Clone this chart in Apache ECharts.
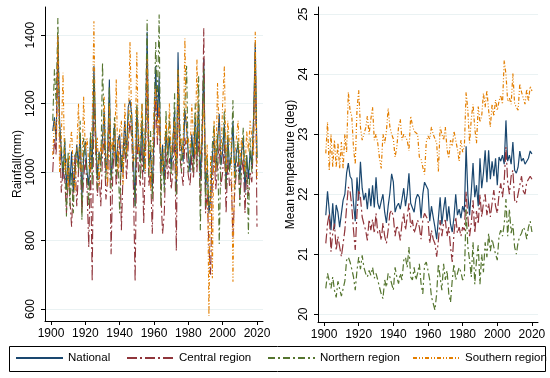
<!DOCTYPE html>
<html>
<head>
<meta charset="utf-8">
<script src="https://cdn.jsdelivr.net/npm/echarts@6/dist/echarts.min.js"></script>
<style>html,body{margin:0;padding:0;background:#fff;}#c{width:550px;height:378px;}</style>
</head>
<body>
<div id="c"></div>
<script>
const firstYear = 1901;
const years = Array.from({length: 120}, (_, i) => firstYear + i);
const xTicks = [1900, 1920, 1940, 1960, 1980, 2000, 2020];
const rainTicks = [600, 800, 1000, 1200, 1400];
const tempTicks = [20, 21, 22, 23, 24, 25];
const seriesNames = ['National', 'Central region', 'Northern region', 'Southern region'];

// Rainfall (mm), 1901-2020
const rainNational = [
1120,1160,1090,1400,1150,1060,980,1090,950,1040,
960,1060,940,1000,1080,1020,1110,930,1040,1090,
1000,960,1100,1010,1310,1120,980,1060,1020,1100,
1180,1000,1050,1270,980,1040,1140,1020,1090,1110,
1000,1060,1150,1050,1190,1210,1170,1040,900,1190,
1080,1030,1150,1000,1110,1410,1020,1060,950,1100,
1310,1150,1280,1000,1080,960,1120,1050,1100,1010,
1090,1180,940,1350,1100,1070,1030,1180,1130,1050,
1000,1110,1040,1160,1060,1200,980,1090,1330,950,
1010,880,920,1050,1100,1000,1080,1170,1020,1060,
1140,950,1100,1010,1040,1150,990,1060,1080,980,
1060,1100,940,1050,980,1060,1020,1160,1380,1040];
const rainCentral = [
1000,1100,1050,1350,1120,940,1010,980,880,1000,
920,840,970,1050,900,1000,1060,880,980,1040,
950,780,1040,680,1230,1060,930,1000,900,1050,
1100,920,980,1180,760,1000,1080,960,1030,1090,
830,1000,1100,980,1080,1150,1100,960,680,1100,
1000,960,1080,850,1050,1300,960,1000,820,1050,
1220,1080,1200,940,820,880,1060,980,1040,950,
1000,1120,770,1250,1050,1000,960,1100,1050,990,
960,1050,980,1100,1000,1120,900,1050,1420,880,
940,780,700,980,1050,950,1020,1080,960,1000,
1080,880,1040,960,980,810,940,1000,1030,920,
1000,1040,880,1000,930,1000,970,1100,1350,840];
const rainNorthern = [
1150,1300,1200,1450,1120,1080,1000,1100,870,1060,
900,1000,880,1050,1060,1000,1150,860,1100,1050,
1000,900,1120,960,1280,1100,950,1060,1000,1320,
1120,980,1060,1250,950,1080,1160,990,1060,880,
1050,1000,1100,1040,1160,1180,1130,1000,900,1200,
1100,980,1200,1000,1150,1445,990,1120,920,1150,
1380,1200,1460,900,1060,940,1180,1020,1160,990,
1060,1230,930,1300,1150,1000,1100,1200,1310,1000,
1040,1090,1000,1200,1020,1280,830,1150,1300,900,
1050,900,950,1080,1140,1020,1110,790,1050,1080,
1180,950,1120,1000,1060,1210,950,1030,1100,900,
1040,1130,980,1050,820,1100,1000,1150,1350,1020];
const rainSouthern = [
1050,1150,1100,1400,1000,1100,1290,1000,1040,950,
1080,1120,1000,940,1060,1200,1010,1000,1220,1060,
1100,1020,1000,1150,1440,1060,1100,960,1080,1050,
1220,1050,960,1200,1060,1100,1040,1270,1000,1120,
1150,960,1200,1050,1100,1380,1150,1030,1050,1350,
1050,1100,1200,1080,1000,1330,1100,950,1060,1180,
1250,1100,1200,1050,1000,1080,1150,1060,1200,1050,
1100,1150,980,1300,1060,1100,1050,1390,1080,1100,
1050,1200,1100,1050,1330,1120,1050,1100,1200,1000,
1080,580,1050,690,1150,1000,1260,1100,1050,1200,
1310,1000,1150,1080,1100,680,1050,1100,1150,1020,
1100,1050,1000,1120,1060,1150,1100,1050,1410,980];

// Mean temperature (deg), 1901-2020
const tempNational = [
21.65,22.05,22.08,21.40,21.85,21.42,21.82,21.70,21.45,21.43,
21.90,22.00,22.35,22.52,22.30,22.25,21.85,21.55,22.28,21.90,
22.54,22.10,21.90,22.02,21.75,22.10,21.80,22.15,21.78,22.28,
21.85,21.75,21.88,22.00,21.70,21.52,21.80,22.02,22.34,22.20,
21.70,21.80,21.85,21.75,21.92,22.10,21.80,22.00,22.35,21.85,
21.88,21.70,21.92,22.00,21.95,21.60,22.00,22.20,22.18,22.08,
21.55,21.80,21.62,21.45,21.25,21.60,21.95,21.50,21.75,21.95,
21.55,21.80,21.50,21.37,21.62,22.00,21.65,21.75,21.60,21.80,
21.70,22.80,22.00,21.65,22.05,22.52,21.95,22.15,21.80,22.60,
22.10,22.35,22.73,22.20,22.73,22.25,22.55,22.30,22.60,22.15,
22.62,22.55,22.65,22.50,23.23,22.55,22.65,22.50,22.87,22.40,
22.35,22.45,22.72,22.55,22.60,22.50,22.48,22.60,22.72,22.67];
const tempCentral = [
21.18,21.51,21.68,21.04,21.35,21.51,21.06,21.30,21.12,20.96,
20.98,21.40,21.78,22.12,22.05,21.80,21.40,21.07,21.68,22.07,
21.95,21.62,21.50,21.40,21.23,21.58,21.40,21.58,21.35,21.68,
21.35,21.40,21.23,21.52,21.30,21.18,21.40,21.68,21.73,21.62,
21.30,21.48,21.40,21.23,21.52,21.68,21.40,21.62,21.85,21.45,
21.57,21.35,21.45,21.57,21.45,21.25,21.57,21.68,21.66,21.57,
21.18,21.40,21.25,21.18,20.96,21.23,21.57,21.30,21.52,21.57,
21.30,21.45,21.12,20.87,21.35,21.62,21.35,21.45,21.30,21.45,
21.40,22.05,21.62,21.30,21.52,21.90,21.35,21.72,21.50,22.00,
21.62,21.85,22.00,21.65,21.85,21.62,21.85,22.07,21.80,21.68,
22.00,22.18,21.95,22.22,22.79,22.20,22.00,22.30,22.40,21.90,
21.85,22.00,22.15,22.30,22.05,22.00,22.20,22.25,22.30,22.25];
const tempNorthern = [
20.43,20.68,20.65,20.43,20.62,20.40,20.28,20.55,20.42,20.30,
20.32,20.55,20.90,20.95,20.87,20.75,20.62,20.40,20.73,20.95,
20.75,20.98,20.78,20.68,20.62,20.73,20.65,20.78,20.60,20.68,
20.57,20.45,20.34,20.26,20.57,20.45,20.68,20.62,20.51,20.40,
20.78,20.62,20.51,20.68,20.57,20.90,20.95,20.78,21.12,20.62,
20.57,20.78,20.57,20.68,20.84,20.51,20.34,20.82,20.87,20.73,
20.57,20.29,20.18,20.07,20.34,20.84,20.62,20.40,20.84,20.57,
20.73,20.34,20.20,20.57,20.84,20.57,20.68,20.78,20.70,20.57,
20.62,21.75,21.12,20.90,20.62,21.20,20.50,20.90,21.15,20.50,
21.00,20.70,21.20,20.95,21.35,21.05,21.25,21.12,21.00,20.90,
21.30,21.40,21.30,21.50,21.92,21.30,21.75,21.35,21.50,21.12,
21.00,21.20,21.30,21.35,21.45,21.40,21.25,21.45,21.55,21.37];
const tempSouthern = [
22.68,23.20,22.40,23.00,22.45,22.90,22.45,22.85,22.43,22.87,
22.42,23.00,22.70,23.70,23.40,23.30,22.77,22.50,23.40,23.73,
23.12,22.90,22.90,23.10,23.30,23.00,23.25,23.45,22.90,23.00,
22.85,22.60,22.43,23.00,22.85,23.05,23.43,23.12,23.00,22.92,
22.62,22.78,23.12,23.25,22.90,23.00,22.97,22.90,22.72,23.30,
23.15,23.05,23.05,23.00,22.62,22.58,22.45,22.33,22.87,22.97,
22.92,23.12,23.00,22.97,22.85,22.38,23.12,23.00,22.90,23.12,
22.75,22.60,22.90,22.80,23.05,22.90,22.75,22.55,22.90,22.70,
22.80,23.70,23.40,22.85,23.26,23.50,23.10,22.85,23.46,23.20,
23.30,23.68,23.45,23.73,23.40,23.12,23.50,23.30,23.57,23.40,
23.55,23.65,23.50,24.23,24.00,23.55,23.60,23.50,24.01,23.51,
23.45,23.40,23.84,23.70,23.60,23.50,23.75,23.55,23.80,23.72];

const colors = ['#1a476f', '#90353b', '#55752f', '#e37e00'];
const dashes = ['solid', [10, 3, 2, 3], [7, 3, 2, 3], [4, 2, 1, 2, 1, 2]];
const FONT = 'Liberation Sans';
const FS = 12;
const plain = v => String(v);

function pairs(vals) { return years.map((y, i) => [y, vals[i]]); }

function xAxisCfg(gi) {
  return {
    type: 'value', gridIndex: gi, min: 1896.5, max: 2023.5,
    axisLine: {show: true, lineStyle: {color: '#000', width: 1}},
    axisTick: {show: true, length: 4, lineStyle: {color: '#000'}, customValues: xTicks},
    axisLabel: {customValues: xTicks, formatter: plain, color: '#000', fontSize: FS, fontFamily: FONT, margin: 7},
    splitLine: {show: false}
  };
}
function yAxisCfg(gi, min, max, ticks, name, gap) {
  return {
    type: 'value', gridIndex: gi, min: min, max: max, name: name,
    nameLocation: 'middle', nameGap: gap, nameRotate: 90,
    nameTextStyle: {color: '#000', fontSize: FS, fontFamily: FONT},
    axisLine: {show: true, lineStyle: {color: '#000', width: 1}},
    axisTick: {show: true, length: 4, lineStyle: {color: '#000'}, customValues: ticks},
    axisLabel: {customValues: ticks, formatter: plain, rotate: 90, color: '#000', fontSize: FS, fontFamily: FONT, margin: 8},
    splitLine: {show: true, lineStyle: {color: '#eaf2f3', width: 1}}
  };
}

const rainSets = [rainNational, rainCentral, rainNorthern, rainSouthern];
const tempSets = [tempNational, tempCentral, tempNorthern, tempSouthern];
const series = [];
rainSets.forEach((d, i) => series.push({
  name: seriesNames[i], type: 'line', xAxisIndex: 0, yAxisIndex: 0, data: pairs(d),
  symbol: 'none', animation: false,
  lineStyle: {color: colors[i], width: 1.1, type: dashes[i]}, itemStyle: {color: colors[i]}
}));
tempSets.forEach((d, i) => series.push({
  name: seriesNames[i], type: 'line', xAxisIndex: 1, yAxisIndex: 1, data: pairs(d),
  symbol: 'none', animation: false,
  lineStyle: {color: colors[i], width: 1.2, type: dashes[i]}, itemStyle: {color: colors[i]}
}));

const legendLefts = [15, 126, 267, 412];
const legends = seriesNames.map((n, i) => ({
  data: [n], left: legendLefts[i], top: 352, padding: 0,
  itemWidth: 47, itemHeight: 14, itemGap: 0,
  itemStyle: {opacity: 0},
  textStyle: {color: '#000', fontSize: 11.5, fontFamily: FONT}, selectedMode: false
}));

const chart = echarts.init(document.getElementById('c'), null, {renderer: 'canvas'});
chart.setOption({
  backgroundColor: '#fff',
  animation: false,
  textStyle: {fontFamily: FONT},
  grid: [
    {left: 45, top: 7, width: 218, height: 314},
    {left: 318, top: 7, width: 220, height: 315}
  ],
  xAxis: [xAxisCfg(0), xAxisCfg(1)],
  yAxis: [
    yAxisCfg(0, 565, 1482, rainTicks, 'Rainfall(mm)', 10),
    yAxisCfg(1, 19.87, 25.12, tempTicks, 'Mean temperature (deg)', 17)
  ],
  legend: legends,
  graphic: [{
    type: 'rect', shape: {x: 9.5, y: 346.5, width: 536, height: 25},
    style: {fill: 'none', stroke: '#000', lineWidth: 1}, silent: true
  }],
  series: series
});
</script>
</body>
</html>
